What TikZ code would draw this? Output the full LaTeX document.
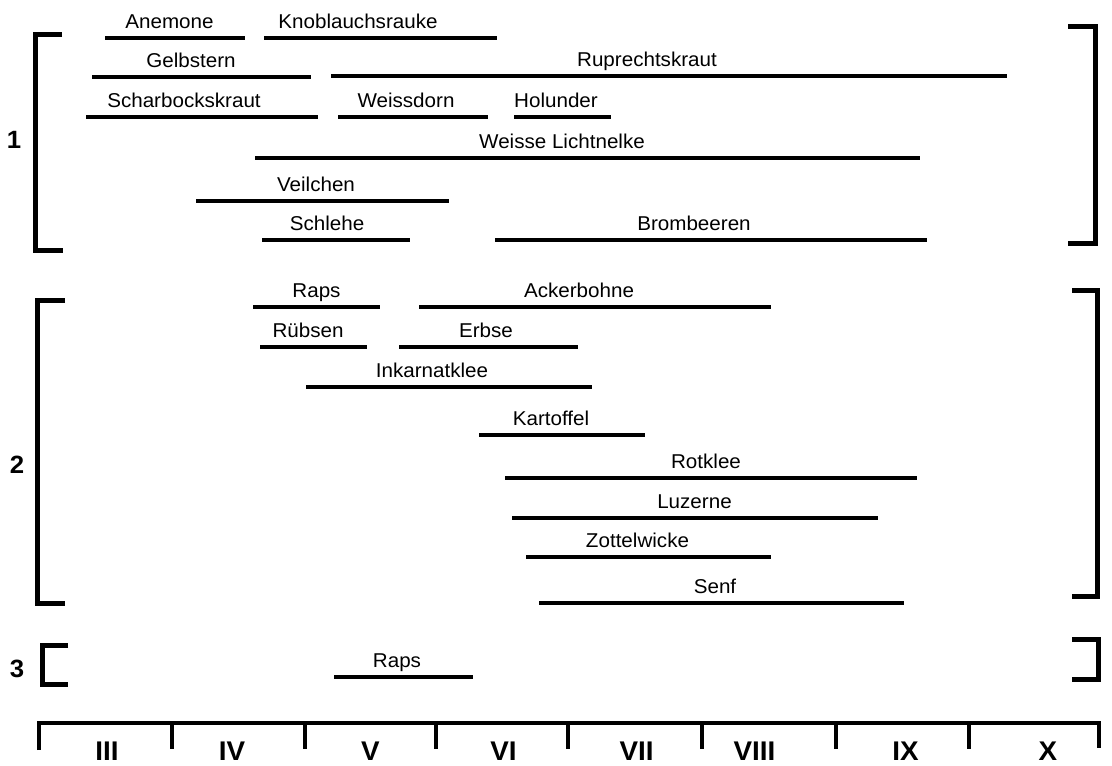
\documentclass[tikz,border=0pt]{standalone}
\usepackage{fontspec}
\setmainfont{Liberation Sans}[FakeStretch=1.03]
\newcommand\plantbar[6]{%
  \coordinate (#1a) at (#2,#4);
  \coordinate (#1b) at (#3,#4);
  \draw[bar] (#1a) -- (#1b);
  \node[lab] (#1) at (#5,#4-10) {#6};}
\begin{document}
\begin{tikzpicture}[x=1pt,y=-1pt,
  bar/.style={line width=4pt},
  brk/.style={line width=5pt, line join=miter},
  axisline/.style={line width=4.5pt, line join=miter},
  lab/.style={anchor=base, inner sep=0pt, font=\fontsize{20}{20}\selectfont},
  grp/.style={inner sep=0pt, font=\bfseries\fontsize{25}{25}\selectfont},
  month/.style={anchor=base, inner sep=0pt, font=\bfseries\fontsize{27}{27}\selectfont}]
\useasboundingbox (0,0) rectangle (1112,766);

% group 1
\plantbar{anemone}{105}{245}{38}{169.5}{Anemone}
\plantbar{knob}{264}{497}{38}{358}{Knoblauchsrauke}
\plantbar{gelb}{92}{311}{77}{191}{Gelbstern}
\plantbar{rupr}{331}{1007}{76}{647}{Ruprechtskraut}
\plantbar{scharb}{86}{318}{117}{184}{Scharbockskraut}
\plantbar{weissd}{338}{488}{117}{406}{Weissdorn}
\plantbar{holun}{514}{611}{117}{556}{Holunder}
\plantbar{licht}{255}{920}{158}{562}{Weisse Lichtnelke}
\plantbar{veil}{196}{449}{201}{316}{Veilchen}
\plantbar{schleh}{262}{410}{240}{327}{Schlehe}
\plantbar{bromb}{495}{927}{240}{694}{Brombeeren}

% group 2
\plantbar{rapsb}{253}{380}{307}{316.5}{Raps}
\plantbar{acker}{419}{771}{307}{579}{Ackerbohne}
\plantbar{ruebs}{260}{367}{347}{308}{Rübsen}
\plantbar{erbse}{399}{578}{347}{486}{Erbse}
\plantbar{inkarn}{306}{592}{387}{432}{Inkarnatklee}
\plantbar{kartof}{479}{645}{435}{551}{Kartoffel}
\plantbar{rotk}{505}{917}{478}{706}{Rotklee}
\plantbar{luz}{512}{878}{518}{694.5}{Luzerne}
\plantbar{zott}{526}{771}{557}{637.5}{Zottelwicke}
\plantbar{senf}{539}{904}{603}{715}{Senf}

% group 3
\plantbar{rapsc}{334}{473}{677}{397}{Raps}

% brackets
\coordinate (b1lt) at (62,34);  \coordinate (b1lb) at (63,250);
\coordinate (b1rt) at (1068,26); \coordinate (b1rb) at (1068,243);
\coordinate (b2lt) at (65,300); \coordinate (b2lb) at (65,603);
\coordinate (b2rt) at (1072,290); \coordinate (b2rb) at (1072,596);
\coordinate (b3lt) at (68,645); \coordinate (b3lb) at (68,684);
\coordinate (b3rt) at (1072,639); \coordinate (b3rb) at (1072,679);
\draw[brk] (b1lt) -- (35,34) -- (35,250) -- (b1lb);
\draw[brk] (b1rt) -- (1095,26) -- (1095,243) -- (b1rb);
\draw[brk] (b2lt) -- (37,300) -- (37,603) -- (b2lb);
\draw[brk] (b2rt) -- (1097,290) -- (1097,596) -- (b2rb);
\draw[brk] (b3lt) -- (42,645) -- (42,684) -- (b3lb);
\draw[brk] (b3rt) -- (1098,639) -- (1098,679) -- (b3rb);
\node[grp] (g1) at (14,140) {1};
\node[grp] (g2) at (17,465) {2};
\node[grp] (g3) at (17,669) {3};

% axis
\coordinate (axl) at (39,750);
\coordinate (axr) at (1099,748);
\draw[axisline] (axl) -- (39,723) -- (1099,723) -- (axr);
\foreach \t/\n in {172/t1,305/t2,436/t3,568/t4,702/t5,836/t6,969/t7}{
  \coordinate (\n a) at (\t,723);
  \coordinate (\n b) at (\t,749);
  \draw[line width=4.5pt] (\n a) -- (\n b);
}
\foreach \x/\m/\n in {107/III/m3,232/IV/m4,370.5/V/m5,503.5/VI/m6,636.5/VII/m7,754.5/VIII/m8,905.5/IX/m9,1048/X/m10}{
  \node[month] (\n) at (\x,760) {\m};
}
\end{tikzpicture}
\end{document}
